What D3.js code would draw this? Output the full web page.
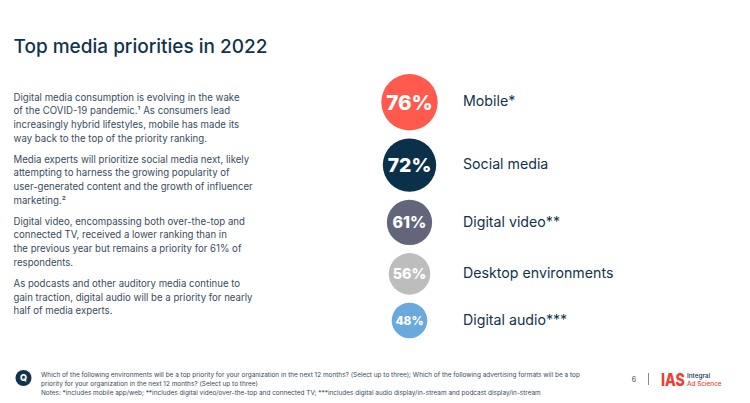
<!DOCTYPE html>
<html><head><meta charset="utf-8">
<script src="https://cdn.jsdelivr.net/npm/d3@7"></script>
<style>
html,body{margin:0;padding:0;background:#fff}
svg{display:block;font-family:Inter,"Noto Sans",sans-serif}
</style></head><body><svg id="c" width="750" height="403"></svg>
<script>
const categories = ["Mobile*","Social media","Digital video**","Desktop environments","Digital audio***"];
const values = [76,72,61,56,48];
const colors = ["#ff5a4d","#0b3049","#63667a","#bdbdbd","#69a9de"];
const titleText = "Top media priorities in 2022";
const bodyParagraphs = [
 ["Digital media consumption is evolving in the wake","of the COVID-19 pandemic.¹ As consumers lead","increasingly hybrid lifestyles, mobile has made its","way back to the top of the priority ranking."],
 ["Media experts will prioritize social media next, likely","attempting to harness the growing popularity of","user-generated content and the growth of influencer","marketing.²"],
 ["Digital video, encompassing both over-the-top and","connected TV, received a lower ranking than in","the previous year but remains a priority for 61% of","respondents."],
 ["As podcasts and other auditory media continue to","gain traction, digital audio will be a priority for nearly","half of media experts."]
];
const footerLines = [
 "Which of the following environments will be a top priority for your organization in the next 12 months? (Select up to three); Which of the following advertising formats will be a top",
 "priority for your organization in the next 12 months? (Select up to three)",
 "Notes: *includes mobile app/web; **includes digital video/over-the-top and connected TV; ***includes digital audio display/in-stream and podcast display/in-stream"
];

const svg = d3.select("#c");
const ink = "#12334a", body = "#3a4c5c";

svg.append("text").attr("x",13.5).attr("y",53).attr("font-size",19).attr("font-weight",500).attr("fill",ink).text(titleText);

let y = 100.5;
bodyParagraphs.forEach(p=>{
  p.forEach(l=>{
    svg.append("text").attr("x",13.5).attr("y",y).attr("font-size",9.65).attr("fill",body).text(l);
    y += 13.7;
  });
  y += 7.3;
});

// bubbles: radius linear in value, stacked top-down with a constant gap
const r = d3.scaleLinear().domain([0,76]).range([0,28.2]);
const cx = 409.5, gap = 8;
let cursor = 74;
const centers = values.map(v=>{ const c = cursor + r(v); cursor = c + r(v) + gap; return c; });
const rows = categories.map((name,i)=>({name,value:values[i],color:colors[i],cy:centers[i]}));
const labelSize = d3.scaleLinear().domain([48,76]).range([11.8,20.6]);

const g = svg.append("g").selectAll("g").data(rows).join("g");
g.append("circle").attr("cx",cx).attr("cy",d=>d.cy).attr("r",d=>r(d.value)).attr("fill",d=>d.color);
g.append("text").attr("x",cx).attr("y",d=>d.cy).attr("dy","0.36em").attr("text-anchor","middle")
 .attr("fill","#fff").attr("font-weight",800).attr("font-size",d=>labelSize(d.value)).text(d=>d.value+"%");
g.append("text").attr("x",463).attr("y",d=>d.cy).attr("dy","0.3em").attr("fill",ink)
 .attr("font-size",14.2).text(d=>d.name);

// footer
svg.append("circle").attr("cx",23.5).attr("cy",378).attr("r",8).attr("fill",ink);
svg.append("text").attr("x",23.5).attr("y",381).attr("text-anchor","middle").attr("font-size",9).attr("font-weight",800).attr("fill","#fff").text("Q");
footerLines.forEach((l,i)=>{
  svg.append("text").attr("x",41).attr("y",376.5+i*9).attr("font-size",6.45).attr("fill",body).text(l);
});
svg.append("text").attr("x",634).attr("y",381.5).attr("text-anchor","middle").attr("font-size",7).attr("fill",body).text("6");
svg.append("line").attr("x1",648.5).attr("x2",648.5).attr("y1",373).attr("y2",385).attr("stroke","#7f8c96").attr("stroke-width",1);
svg.append("text").attr("transform","translate(661,386) scale(0.8,1)").attr("font-size",17.5).attr("font-weight",800).attr("fill","#ef3d35").text("IAS");
svg.append("text").attr("x",687).attr("y",377.5).attr("font-size",6.4).attr("font-weight",500).attr("fill",ink).text("Integral");
svg.append("text").attr("x",687).attr("y",385.5).attr("font-size",6.4).attr("font-weight",500).attr("fill","#ef3d35").text("Ad Science");
</script></body></html>
